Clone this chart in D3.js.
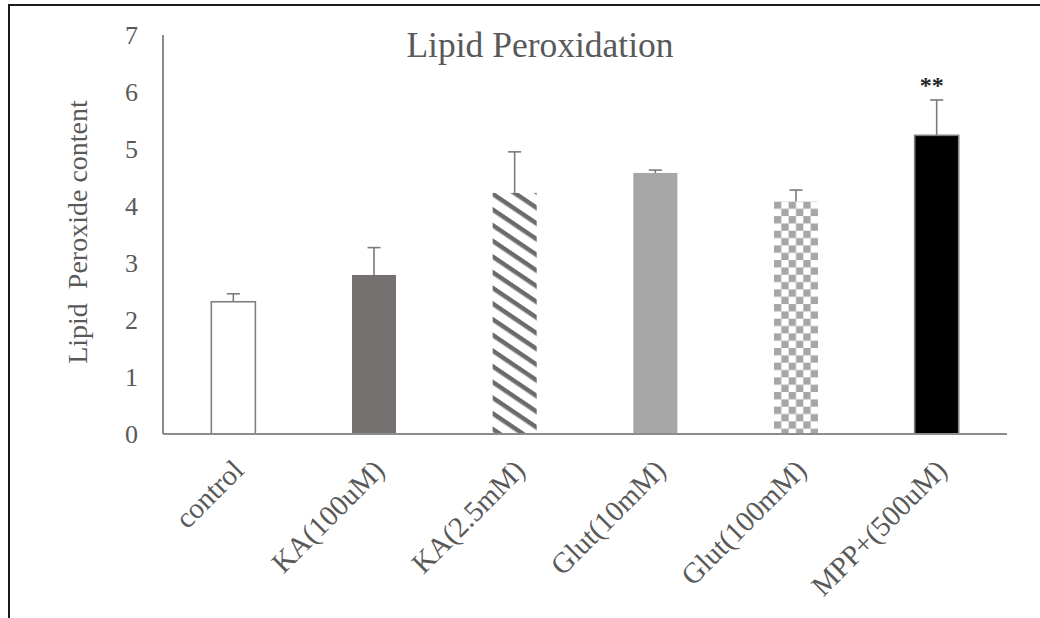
<!DOCTYPE html>
<html>
<head>
<meta charset="utf-8">
<script src="https://cdn.jsdelivr.net/npm/d3@7"></script>
<style>
  body { margin: 0; background: #fff; }
  svg text { font-family: "Liberation Serif", "Times New Roman", serif; }
</style>
</head>
<body>
<svg width="1040" height="618"></svg>
<script>
const categories = ["control", "KA(100uM)", "KA(2.5mM)", "Glut(10mM)", "Glut(100mM)", "MPP+(500uM)"];
const values     = [2.32, 2.79, 4.23, 4.58, 4.08, 5.24];
const errors     = [0.14, 0.48, 0.72, 0.05, 0.20, 0.62];
const yTicks     = [0, 1, 2, 3, 4, 5, 6, 7];
const marks      = ["", "", "", "", "", "**"];

const fills   = ["#ffffff", "#767171", "url(#hatch)", "#a6a6a6", "url(#checker)", "#000000"];
const strokes = ["#808080", "none", "none", "none", "none", "#7f7f7f"];

const svg = d3.select("svg");

// outer frame (top + left edges only visible)
svg.append("path")
    .attr("d", "M9,618 V5 H1040")
    .attr("fill", "none")
    .attr("stroke", "#1a1a1a")
    .attr("stroke-width", 2);

const x = d3.scaleBand()
    .domain(categories)
    .range([163, 1007])
    .paddingInner(0.687)
    .paddingOuter(0.3435);

const y = d3.scaleLinear()
    .domain([0, 7])
    .range([434, 35]);

const defs = svg.append("defs");

defs.append("pattern")
    .attr("id", "hatch")
    .attr("patternUnits", "userSpaceOnUse")
    .attr("width", 10)
    .attr("height", 13)
    .attr("patternTransform", "rotate(34)")
  .append("rect")
    .attr("width", 10)
    .attr("height", 4.5)
    .attr("fill", "#6b6b6b");

const cs = 7.33;
const checker = defs.append("pattern")
    .attr("id", "checker")
    .attr("patternUnits", "userSpaceOnUse")
    .attr("x", x("Glut(100mM)"))
    .attr("y", y(values[4]))
    .attr("width", cs * 2)
    .attr("height", cs * 2);
checker.append("rect").attr("width", cs).attr("height", cs).attr("fill", "#a6a6a6");
checker.append("rect").attr("x", cs).attr("y", cs).attr("width", cs).attr("height", cs).attr("fill", "#a6a6a6");

// title
svg.append("text")
    .attr("x", 540)
    .attr("y", 57)
    .attr("text-anchor", "middle")
    .attr("font-size", 35.5)
    .attr("fill", "#595959")
    .text("Lipid Peroxidation");

// y axis label
svg.append("text")
    .attr("transform", "translate(87,232) rotate(-90)")
    .attr("text-anchor", "middle")
    .attr("font-size", 28)
    .attr("fill", "#595959")
    .attr("xml:space", "preserve")
    .text("Lipid  Peroxide content");

// y tick labels
svg.append("g")
    .selectAll("text")
    .data(yTicks)
    .join("text")
    .attr("x", 138)
    .attr("y", d => y(d))
    .attr("dy", "0.34em")
    .attr("text-anchor", "end")
    .attr("font-size", 26)
    .attr("fill", "#595959")
    .text(d => d);

// bars
const bars = categories.map((c, i) => ({c: c, v: values[i], e: errors[i], f: fills[i], s: strokes[i], m: marks[i]}));

svg.append("g")
    .selectAll("rect")
    .data(bars)
    .join("rect")
    .attr("x", d => x(d.c))
    .attr("y", d => y(d.v))
    .attr("width", x.bandwidth())
    .attr("height", d => y(0) - y(d.v))
    .attr("fill", d => d.f)
    .attr("stroke", d => d.s)
    .attr("stroke-width", 1.6);

// error bars
const err = svg.append("g")
    .attr("stroke", "#7a7a7a")
    .attr("stroke-width", 1.6);
err.selectAll("line.v")
    .data(bars)
    .join("line")
    .attr("class", "v")
    .attr("x1", d => x(d.c) + x.bandwidth() / 2)
    .attr("x2", d => x(d.c) + x.bandwidth() / 2)
    .attr("y1", d => y(d.v))
    .attr("y2", d => y(d.v + d.e));
err.selectAll("line.cap")
    .data(bars)
    .join("line")
    .attr("class", "cap")
    .attr("x1", d => x(d.c) + x.bandwidth() / 2 - 6.5)
    .attr("x2", d => x(d.c) + x.bandwidth() / 2 + 6.5)
    .attr("y1", d => y(d.v + d.e))
    .attr("y2", d => y(d.v + d.e));

// significance marks
svg.append("g")
    .selectAll("text")
    .data(bars.filter(d => d.m))
    .join("text")
    .attr("x", d => x(d.c) + x.bandwidth() / 2 - 5)
    .attr("y", 93)
    .attr("text-anchor", "middle")
    .attr("font-size", 24)
    .attr("font-weight", "bold")
    .attr("fill", "#262626")
    .text(d => d.m);

// axes lines
svg.append("line")
    .attr("x1", 163).attr("x2", 163)
    .attr("y1", y(7)).attr("y2", y(0))
    .attr("stroke", "#8c8c8c").attr("stroke-width", 2);
svg.append("line")
    .attr("x1", 163).attr("x2", 1007)
    .attr("y1", y(0)).attr("y2", y(0))
    .attr("stroke", "#8c8c8c").attr("stroke-width", 2);

// x labels
svg.append("g")
    .selectAll("text")
    .data(categories)
    .join("text")
    .attr("transform", d => `translate(${x(d) + x.bandwidth() / 2 + 12},472) rotate(-45)`)
    .attr("text-anchor", "end")
    .attr("font-size", 29)
    .attr("fill", "#595959")
    .text(d => d);
</script>
</body>
</html>
